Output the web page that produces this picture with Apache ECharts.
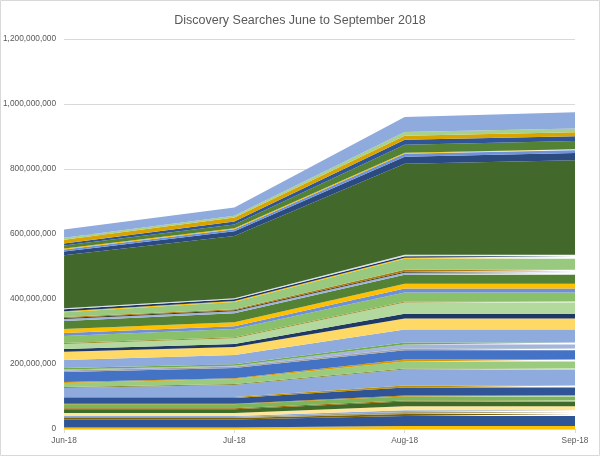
<!DOCTYPE html>
<html>
<head>
<meta charset="utf-8">
<script src="https://cdn.jsdelivr.net/npm/echarts@6/dist/echarts.min.js"></script>
<style>
html,body{margin:0;padding:0;background:#fff;}
#chart{width:600px;height:456px;}
</style>
</head>
<body>
<div id="chart"></div>
<script>
// Categories (months)
const months = ['Jun-18', 'Jul-18', 'Aug-18', 'Sep-18'];

// Values in millions of searches, one entry per stacked layer (bottom -> top)
const junValues = [4.5, 25, 4.5, 3, 3, 9, 12, 3, 12, 1.5, 18, 3, 28, 3, 12, 3, 31, 4.5, 3, 4.5, 25, 25, 9, 15, 3, 22, 9, 12, 25, 6, 3, 3, 15, 3, 6, 3, 163, 12, 6, 3, 9, 6, 12, 6, 25];
const julValues = [4.5, 25, 4.5, 3, 3, 9, 12, 3, 12, 1.5, 18, 3, 37, 3, 15, 3, 31, 4.5, 3, 4.5, 28, 25, 9, 18, 3, 25, 9, 12, 28, 6, 3, 3, 22, 3, 6, 3, 191, 15, 6, 3, 12, 9, 12, 6, 25];
const augValues = [9, 31, 6, 6, 6, 12, 15, 3, 12, 3, 25, 6, 49, 3, 22, 6, 28, 6, 12, 6, 40, 34, 15, 34, 3, 28, 12, 15, 28, 6, 3, 6, 34, 3, 4.5, 4.5, 280, 22, 9, 3, 25, 15, 12, 12, 46];
const sepValues = [9, 31, 6, 6, 6, 12, 15, 3, 12, 3, 25, 6, 49, 3, 22, 6, 28, 6, 12, 6, 40, 34, 15, 34, 3, 28, 12, 15, 28, 6, 3, 6, 34, 3, 4.5, 4.5, 291, 22, 9, 3, 25, 15, 12, 12, 50];

// Y axis ticks
const yTicks = [0, 200000000, 400000000, 600000000, 800000000, 1000000000, 1200000000];

// Layer colours (bottom -> top)
const palette = ['#FFC000', '#2F5597', '#7F6000', '#A5A27A', '#8FAADC', '#FFE699', '#3F6B2A', '#9C6500', '#7DB55A', '#C98A00',
  '#2F5597', '#BF9000', '#8FAADC', '#8C8C3C', '#9BCB7E', '#D79A00', '#4472C4', '#A5A5A5', '#A4B6DC', '#70AD47',
  '#8FAADC', '#FFD966', '#203864', '#B4D99E', '#A09030', '#8BC06A', '#6F8FD8', '#FFC000', '#548235', '#9DB3DE',
  '#3B3B1F', '#B07A10', '#99C97E', '#FFC000', '#203864', '#DAE3F3', '#43682B', '#2A4A80', '#6F93D6', '#FFC000',
  '#548235', '#2F5597', '#D9A400', '#A9D18E', '#8FAADC'];

const series = junValues.map((v, i) => ({
  name: 'Layer ' + (i + 1),
  type: 'line',
  stack: 'total',
  symbol: 'none',
  showSymbol: false,
  silent: true,
  lineStyle: { width: 0 },
  areaStyle: { color: palette[i % palette.length], opacity: 1 },
  itemStyle: { color: palette[i % palette.length] },
  emphasis: { disabled: true },
  data: [junValues[i], julValues[i], augValues[i], sepValues[i]].map(x => x * 1e6)
}));

const chart = echarts.init(document.getElementById('chart'), null, { renderer: 'canvas' });
const fmt = v => String(Math.round(v)).replace(/\B(?=(\d{3})+(?!\d))/g, ',');
chart.setOption({
  animation: false,
  backgroundColor: '#fff',
  title: {
    text: 'Discovery Searches June to September 2018',
    left: 'center',
    top: 9,
    textStyle: { fontFamily: 'Liberation Sans', fontSize: 12.5, fontWeight: 'normal', color: '#595959' }
  },
  graphic: [{
    type: 'rect', silent: true,
    shape: { x: 0.5, y: 0.5, width: 599, height: 455 },
    style: { fill: 'none', stroke: '#D9D9D9', lineWidth: 1 }
  }],
  grid: { left: 64, right: 25, top: 39, bottom: 27 },
  xAxis: {
    type: 'category',
    boundaryGap: false,
    data: months,
    axisLine: { lineStyle: { color: '#D9D9D9' } },
    axisTick: { show: true, alignWithLabel: true, length: 4, lineStyle: { color: '#D9D9D9' } },
    axisLabel: { fontFamily: 'Liberation Sans', fontSize: 8.3, color: '#595959', margin: 8 }
  },
  yAxis: {
    type: 'value',
    min: yTicks[0],
    max: yTicks[yTicks.length - 1],
    interval: yTicks[1] - yTicks[0],
    axisLine: { show: false },
    axisTick: { show: false },
    splitLine: { lineStyle: { color: '#D9D9D9' } },
    axisLabel: { fontFamily: 'Liberation Sans', fontSize: 8.3, color: '#595959', margin: 8, formatter: fmt }
  },
  series: series
});
</script>
</body>
</html>
